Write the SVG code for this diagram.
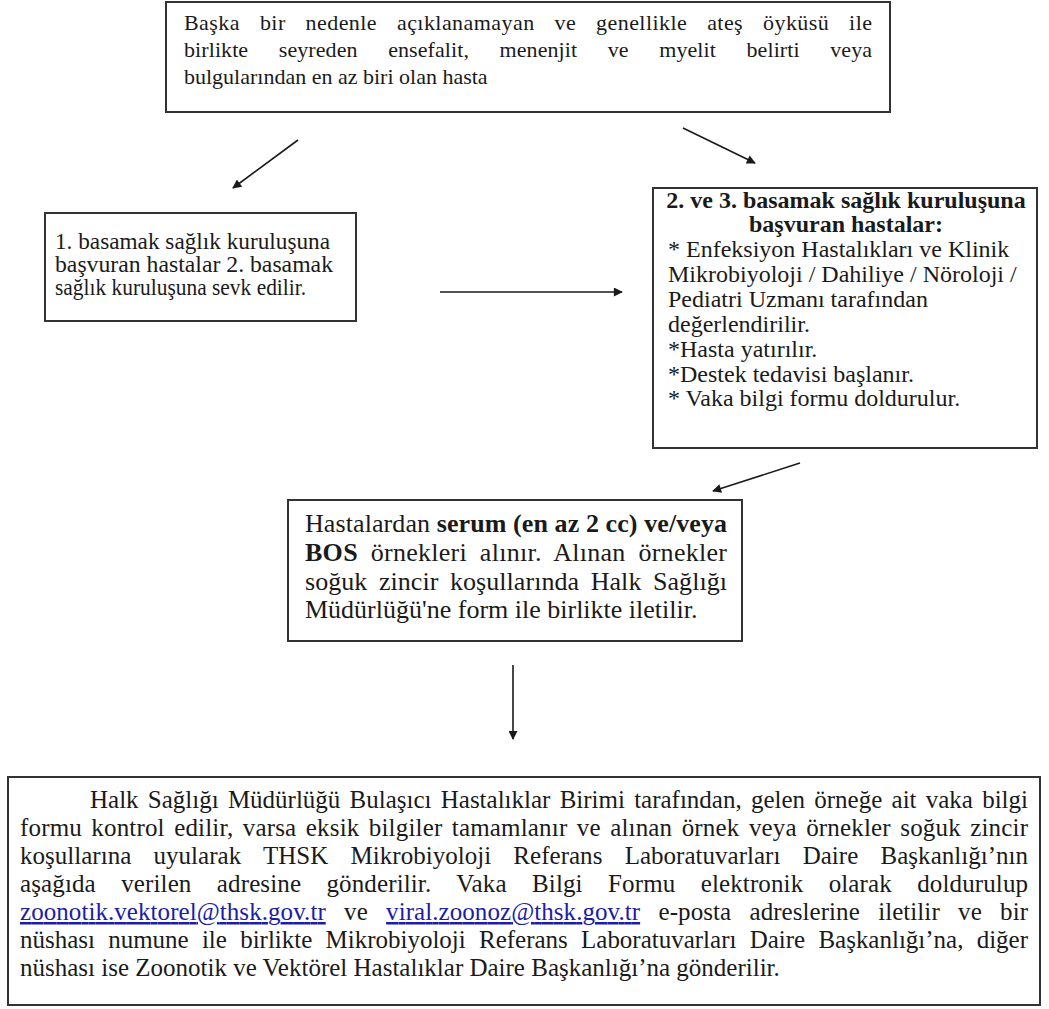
<svg xmlns="http://www.w3.org/2000/svg" width="1049" height="1009" viewBox="0 0 1049 1009">
<defs>
<marker id="ah" viewBox="0 0 10 10" refX="9" refY="5" markerWidth="10" markerHeight="9" markerUnits="userSpaceOnUse" orient="auto">
<path d="M0,0 L10,5 L0,10 z" fill="#1a1a1a"/>
</marker>
</defs>
<style>
.box{fill:#ffffff;stroke:#333333;stroke-width:2}
.t{font-family:"Liberation Serif","Times New Roman",serif;fill:#1a1a1a}
.f22{font-size:22px}
.f26{font-size:26px}
.f25{font-size:25px}
.f24{font-size:24px}
.f23{font-size:23px}
.b{font-weight:bold}
.lnk{fill:#1c1ca8;text-decoration:underline}
.arr{stroke:#1a1a1a;stroke-width:1.6;fill:none;marker-end:url(#ah)}
</style>
<rect width="1049" height="1009" fill="#ffffff"/>

<g id="connectors">
<line class="arr" x1="298" y1="140" x2="233" y2="188"/>
<line class="arr" x1="683" y1="128" x2="755" y2="163"/>
<line class="arr" x1="440" y1="292" x2="622" y2="292"/>
<line class="arr" x1="800" y1="463" x2="713" y2="491"/>
<line class="arr" x1="513" y1="665" x2="513" y2="739"/>
</g>

<g id="node-top">
<rect class="box" x="166" y="2" width="724" height="110"/>
<text class="t f22" x="184" y="30" word-spacing="14" textLength="688" lengthAdjust="spacing">Başka bir nedenle açıklanamayan ve genellikle ateş öyküsü ile</text>
<text class="t f22" x="184" y="57" word-spacing="25" textLength="688" lengthAdjust="spacing">birlikte seyreden ensefalit, menenjit ve myelit belirti veya</text>
<text class="t f22" x="184" y="84">bulgularından en az biri olan hasta</text>
</g>

<g id="node-left">
<rect class="box" x="45" y="213" width="311" height="108"/>
<text class="t f23" x="55" y="249" textLength="275" lengthAdjust="spacingAndGlyphs">1. basamak sağlık kuruluşuna</text>
<text class="t f23" x="55" y="272" textLength="278" lengthAdjust="spacingAndGlyphs">başvuran hastalar 2. basamak</text>
<text class="t f23" x="55" y="295" textLength="251" lengthAdjust="spacingAndGlyphs">sağlık kuruluşuna sevk edilir.</text>
</g>

<g id="node-right">
<rect class="box" x="653" y="188" width="384" height="260"/>
<text class="t f24 b" x="846" y="208" text-anchor="middle">2. ve 3. basamak sağlık kuruluşuna</text>
<text class="t f24 b" x="846" y="232" text-anchor="middle">başvuran hastalar:</text>
<text class="t f24" x="668" y="257">* Enfeksiyon Hastalıkları ve Klinik</text>
<text class="t f24" x="668" y="282">Mikrobiyoloji / Dahiliye / Nöroloji /</text>
<text class="t f24" x="668" y="307">Pediatri Uzmanı tarafından</text>
<text class="t f24" x="668" y="332">değerlendirilir.</text>
<text class="t f24" x="668" y="357">*Hasta yatırılır.</text>
<text class="t f24" x="668" y="382">*Destek tedavisi başlanır.</text>
<text class="t f24" x="668" y="406">* Vaka bilgi  formu doldurulur.</text>
</g>

<g id="node-middle">
<rect class="box" x="288" y="500" width="454" height="141"/>
<text class="t f26" x="305" y="532" textLength="422" lengthAdjust="spacing">Hastalardan <tspan class="b">serum (en az 2 cc) ve/veya</tspan></text>
<text class="t f26" x="305" y="561" word-spacing="6" textLength="422" lengthAdjust="spacing"><tspan class="b">BOS</tspan> örnekleri alınır. Alınan örnekler</text>
<text class="t f26" x="305" y="590" word-spacing="5" textLength="422" lengthAdjust="spacing">soğuk zincir koşullarında Halk Sağlığı</text>
<text class="t f26" x="305" y="618">Müdürlüğü'ne  form ile birlikte iletilir.</text>
</g>

<g id="node-bottom">
<rect class="box" x="8" y="777" width="1032" height="228"/>
<text class="t f25" x="90" y="808" word-spacing="3" textLength="938" lengthAdjust="spacing">Halk Sağlığı Müdürlüğü Bulaşıcı Hastalıklar Birimi tarafından, gelen örneğe ait vaka bilgi</text>
<text class="t f25" x="20" y="836" word-spacing="3" textLength="1008" lengthAdjust="spacing">formu kontrol edilir, varsa eksik bilgiler tamamlanır ve alınan örnek veya örnekler soğuk zincir</text>
<text class="t f25" x="20" y="864" word-spacing="16" textLength="1008" lengthAdjust="spacing">koşullarına uyularak THSK Mikrobiyoloji Referans Laboratuvarları Daire Başkanlığı’nın</text>
<text class="t f25" x="20" y="892" word-spacing="19" textLength="1008" lengthAdjust="spacing">aşağıda verilen adresine gönderilir. Vaka Bilgi Formu elektronik olarak doldurulup</text>
<text class="t f25" x="20" y="920" word-spacing="12" textLength="1008" lengthAdjust="spacing"><tspan class="lnk">zoonotik.vektorel@thsk.gov.tr</tspan> ve <tspan class="lnk">viral.zoonoz@thsk.gov.tr</tspan> e-posta adreslerine iletilir ve bir</text>
<text class="t f25" x="20" y="948" word-spacing="7" textLength="1008" lengthAdjust="spacing">nüshası numune ile birlikte Mikrobiyoloji Referans Laboratuvarları Daire Başkanlığı’na, diğer</text>
<text class="t f25" x="20" y="976">nüshası ise Zoonotik ve Vektörel Hastalıklar Daire Başkanlığı’na gönderilir.</text>
</g>
</svg>
